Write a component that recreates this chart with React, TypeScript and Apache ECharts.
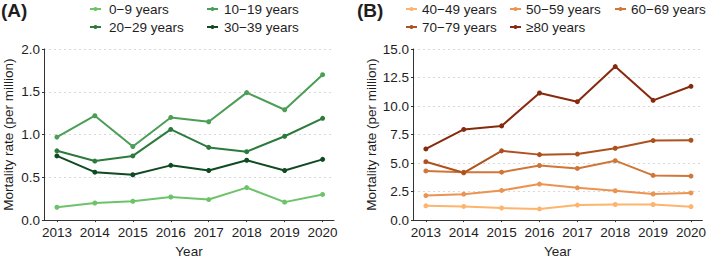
import React, { useEffect, useRef } from "react";
import * as echarts from "echarts";

const years = [2013, 2014, 2015, 2016, 2017, 2018, 2019, 2020];

const namesA = ["0−9 years", "10−19 years", "20−29 years", "30−39 years"];
const a0_9 = [0.15, 0.2, 0.22, 0.27, 0.24, 0.38, 0.21, 0.3];
const a10_19 = [0.97, 1.22, 0.86, 1.2, 1.15, 1.49, 1.29, 1.7];
const a20_29 = [0.81, 0.69, 0.75, 1.06, 0.85, 0.8, 0.98, 1.19];
const a30_39 = [0.75, 0.56, 0.53, 0.64, 0.58, 0.7, 0.58, 0.71];
const colorsA = ["#6cc36a", "#4a9e55", "#2c7a3c", "#0f4a22"];

const namesB = ["40−49 years", "50−59 years", "60−69 years", "70−79 years", "≥80 years"];
const b40_49 = [1.25, 1.2, 1.06, 0.98, 1.32, 1.37, 1.37, 1.18];
const b50_59 = [2.15, 2.27, 2.6, 3.16, 2.83, 2.57, 2.29, 2.38];
const b60_69 = [4.31, 4.2, 4.2, 4.79, 4.53, 5.21, 3.92, 3.86];
const b70_79 = [5.12, 4.15, 6.07, 5.74, 5.79, 6.3, 6.97, 7.0];
const b80 = [6.24, 7.95, 8.26, 11.14, 10.38, 13.46, 10.5, 11.73];
const colorsB = ["#fdb46c", "#eb9452", "#cf7638", "#ad521e", "#86290c"];

const ticksA = [0, 0.5, 1.0, 1.5, 2.0];
const ticksB = [0, 2.5, 5.0, 7.5, 10.0, 12.5, 15.0];

const FONT = "Liberation Sans, Arial, sans-serif";
const TXT = "#1e1e1e";
const FS = 13.5;

export default function App() {
  const ref = useRef<HTMLDivElement>(null);
  useEffect(() => {
    if (!ref.current) return;
    const chart = echarts.init(ref.current, undefined, { renderer: "svg" });
    const pair = (vals: number[]) => years.map((y, i) => [y, vals[i]]);
    const xAxisBase = (gridIndex: number) => ({
      type: "value" as const,
      gridIndex,
      min: 2012.66,
      max: 2020.3,
      name: "Year",
      nameLocation: "middle" as const,
      nameGap: 23,
      nameTextStyle: { fontSize: FS, color: TXT, fontFamily: FONT },
      axisLine: { show: true, lineStyle: { color: "#333", width: 1 } },
      axisTick: { show: true, length: 2, customValues: years, lineStyle: { color: "#333" } },
      axisLabel: {
        customValues: years,
        fontSize: FS,
        color: TXT,
        fontFamily: FONT,
        margin: 5,
        formatter: (v: number) => String(Math.round(v)),
      },
      splitLine: { show: false },
    });
    const yAxisBase = (gridIndex: number, ticks: number[], gap: number) => ({
      type: "value" as const,
      gridIndex,
      min: ticks[0],
      max: ticks[ticks.length - 1],
      interval: ticks[1] - ticks[0],
      name: "Mortality rate (per million)",
      nameLocation: "middle" as const,
      nameGap: gap,
      nameTextStyle: { fontSize: FS, color: TXT, fontFamily: FONT },
      axisLine: { show: true, lineStyle: { color: "#333", width: 1 } },
      axisTick: { show: true, length: 2, lineStyle: { color: "#333" } },
      axisLabel: {
        fontSize: FS,
        color: TXT,
        fontFamily: FONT,
        margin: 4,
        formatter: (v: number) => v.toFixed(1),
      },
      splitLine: { show: true, lineStyle: { color: "#d9d9d9", type: [2, 3], width: 1 } },
    });
    const mk = (name: string, data: number[], color: string, idx: number) => ({
      type: "line" as const,
      name,
      xAxisIndex: idx,
      yAxisIndex: idx,
      data: pair(data),
      symbol: "circle",
      symbolSize: 5,
      lineStyle: { width: 2, color },
      itemStyle: { color },
    });
    const legendText = { fontSize: FS, color: TXT, fontFamily: FONT };
    const lg = (name: string, left: number, top: number, gapText: number) => ({
      data: [name],
      left,
      top,
      padding: 0,
      itemWidth: 11,
      itemHeight: 5,
      textStyle: { ...legendText, padding: [0, 0, 0, gapText] },
    });
    chart.setOption({
      animation: false,
      textStyle: { fontFamily: FONT },
      title: [
        { text: "(A)", left: 1, top: 1, padding: 0, textStyle: { fontSize: 19, fontWeight: "bold", color: TXT, fontFamily: FONT } },
        { text: "(B)", left: 357, top: 1, padding: 0, textStyle: { fontSize: 19, fontWeight: "bold", color: TXT, fontFamily: FONT } },
      ],
      legend: [
        lg(namesA[0], 89, 2, 3),
        lg(namesA[1], 206, 2, 1),
        lg(namesA[2], 89, 20, 3),
        lg(namesA[3], 206, 20, 1),
        lg(namesB[0], 405, 2, 0),
        lg(namesB[1], 509, 2, 0),
        lg(namesB[2], 614, 2, 0),
        lg(namesB[3], 405, 20, 0),
        lg(namesB[4], 509, 20, 0),
      ],
      grid: [
        { left: 39, top: 49, width: 295, height: 179, containLabel: false },
        { left: 413, top: 49, width: 294, height: 179, containLabel: false },
      ],
      xAxis: [xAxisBase(0), xAxisBase(1)],
      yAxis: [yAxisBase(0, ticksA, 29), yAxisBase(1, ticksB, 34)],
      series: [
        mk(namesA[0], a0_9, colorsA[0], 0),
        mk(namesA[1], a10_19, colorsA[1], 0),
        mk(namesA[2], a20_29, colorsA[2], 0),
        mk(namesA[3], a30_39, colorsA[3], 0),
        mk(namesB[0], b40_49, colorsB[0], 1),
        mk(namesB[1], b50_59, colorsB[1], 1),
        mk(namesB[2], b60_69, colorsB[2], 1),
        mk(namesB[3], b70_79, colorsB[3], 1),
        mk(namesB[4], b80, colorsB[4], 1),
      ],
    });
    return () => chart.dispose();
  }, []);
  return <div ref={ref} style={{ width: 709, height: 263, position: "absolute", left: 0, top: 0 }} />;
}
